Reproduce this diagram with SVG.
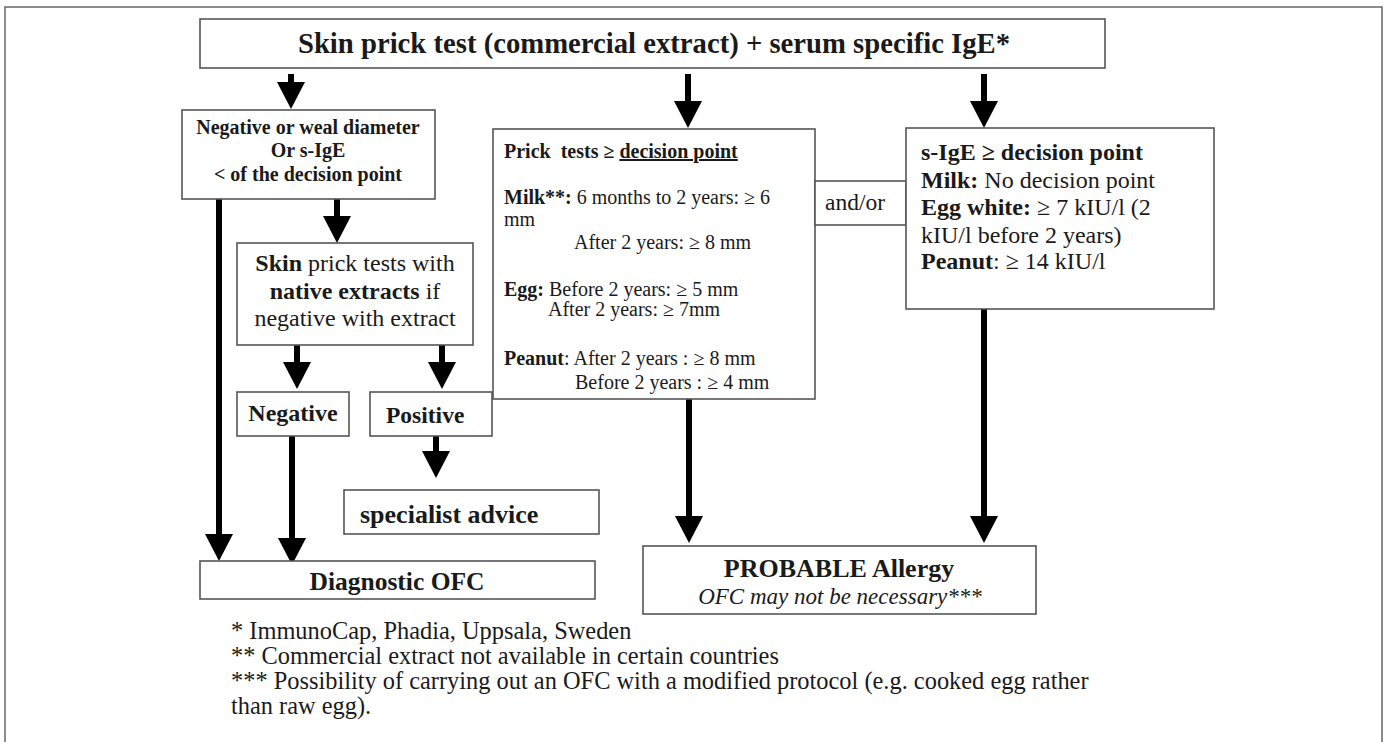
<svg xmlns="http://www.w3.org/2000/svg" width="1386" height="742" viewBox="0 0 1386 742">
<style>
.box{fill:#fff;stroke:#555;stroke-width:1.6}
.t{font-family:"Liberation Serif","Times New Roman",serif;fill:#1a1a1a}
.b{font-weight:bold}
.i{font-style:italic}
.c{text-anchor:middle}
.arr{stroke:#000;stroke-width:6;fill:none}
</style>
<defs>
<marker id="ah" markerUnits="userSpaceOnUse" markerWidth="27" markerHeight="28" refX="0" refY="14" orient="auto" viewBox="0 0 27 28">
<path d="M0,0 L27,14 L0,28 Z" fill="#000"/>
</marker>
</defs>
<rect x="5" y="7" width="1377" height="760" fill="none" stroke="#666" stroke-width="1.5"/>

<g id="connectors">
<path class="arr" d="M291,74 V82" marker-end="url(#ah)"/>
<path class="arr" d="M688,74 V101" marker-end="url(#ah)"/>
<path class="arr" d="M984,74 V101" marker-end="url(#ah)"/>
<path class="arr" d="M219,199 V534" marker-end="url(#ah)"/>
<path class="arr" d="M337,199 V216" marker-end="url(#ah)"/>
<path class="arr" d="M297,345 V362" marker-end="url(#ah)"/>
<path class="arr" d="M442,345 V362" marker-end="url(#ah)"/>
<path class="arr" d="M436,436 V451" marker-end="url(#ah)"/>
<path class="arr" d="M292,436 V538" marker-end="url(#ah)"/>
<path class="arr" d="M689,399 V516" marker-end="url(#ah)"/>
<path class="arr" d="M984,309 V516" marker-end="url(#ah)"/>
</g>

<g id="top">
<rect class="box" x="200" y="19" width="905" height="49"/>
<text class="t b c" x="654" y="53" font-size="28.7">Skin prick test (commercial extract) + serum specific IgE*</text>
</g>

<g id="below">
<rect class="box" x="182" y="110" width="253" height="89"/>
<text class="t b c" x="308" y="134" font-size="20">Negative or weal diameter</text>
<text class="t b c" x="308" y="157" font-size="20">Or s-IgE</text>
<text class="t b c" x="308" y="181" font-size="20">&lt; of the decision point</text>
</g>

<g id="native">
<rect class="box" x="237" y="243" width="236" height="102"/>
<text class="t c" x="355" y="271" font-size="24"><tspan class="b">Skin</tspan> prick tests with</text>
<text class="t c" x="355" y="299" font-size="24"><tspan class="b">native extracts</tspan> if</text>
<text class="t c" x="355" y="326" font-size="24">negative with extract</text>
</g>

<g id="negative">
<rect class="box" x="237" y="392" width="112" height="44"/>
<text class="t b c" x="293" y="421" font-size="24">Negative</text>
</g>

<g id="positive">
<rect class="box" x="370" y="392" width="122" height="44"/>
<text class="t b" x="386" y="423" font-size="23.5">Positive</text>
</g>

<g id="specialist">
<rect class="box" x="344" y="490" width="255" height="44"/>
<text class="t b" x="360" y="523" font-size="26">specialist advice</text>
</g>

<g id="ofc">
<rect class="box" x="200" y="561" width="395" height="38"/>
<text class="t b c" x="397" y="590" font-size="25.5">Diagnostic OFC</text>
</g>

<g id="prick">
<rect class="box" x="493" y="129" width="322" height="270"/>
<text class="t" x="504" y="158" font-size="20"><tspan class="b">Prick&#160; tests ≥ </tspan><tspan class="b" text-decoration="underline">decision point</tspan></text>
<text class="t" x="504" y="204" font-size="20"><tspan class="b">Milk**:</tspan> 6 months to 2 years: ≥ 6</text>
<text class="t" x="504" y="226" font-size="20">mm</text>
<text class="t" x="574" y="249" font-size="20">After 2 years: ≥ 8 mm</text>
<text class="t" x="504" y="296" font-size="20"><tspan class="b">Egg:</tspan> Before 2 years: ≥ 5 mm</text>
<text class="t" x="548" y="316" font-size="20">After 2 years: ≥ 7mm</text>
<text class="t" x="504" y="365" font-size="20"><tspan class="b">Peanut</tspan>: After 2 years : ≥ 8 mm</text>
<text class="t" x="575" y="389" font-size="20">Before 2 years : ≥ 4 mm</text>
</g>

<g id="andor">
<rect class="box" x="815" y="181" width="91" height="44"/>
<text class="t" x="825" y="210" font-size="23.5">and/or</text>
</g>

<g id="sige">
<rect class="box" x="906" y="128" width="308" height="181"/>
<text class="t b" x="921" y="160" font-size="24">s-IgE ≥ decision point</text>
<text class="t" x="921" y="188" font-size="24"><tspan class="b">Milk:</tspan> No decision point</text>
<text class="t" x="921" y="215" font-size="24"><tspan class="b">Egg white:</tspan> ≥ 7 kIU/l (2</text>
<text class="t" x="921" y="243" font-size="24">kIU/l before 2 years)</text>
<text class="t" x="921" y="269" font-size="24"><tspan class="b">Peanut</tspan>: ≥ 14 kIU/l</text>
</g>

<g id="probable">
<rect class="box" x="643" y="546" width="393" height="68"/>
<text class="t b c" x="839" y="577" font-size="26">PROBABLE Allergy</text>
<text class="t i c" x="840" y="604" font-size="23">OFC may not be necessary***</text>
</g>

<g id="footnotes">
<text class="t" x="231" y="639" font-size="24.4">* ImmunoCap, Phadia, Uppsala, Sweden</text>
<text class="t" x="231" y="664" font-size="24.4">** Commercial extract not available in certain countries</text>
<text class="t" x="231" y="689" font-size="24.4">*** Possibility of carrying out an OFC with a modified protocol (e.g. cooked egg rather</text>
<text class="t" x="231" y="714" font-size="24.4">than raw egg).</text>
</g>
</svg>
